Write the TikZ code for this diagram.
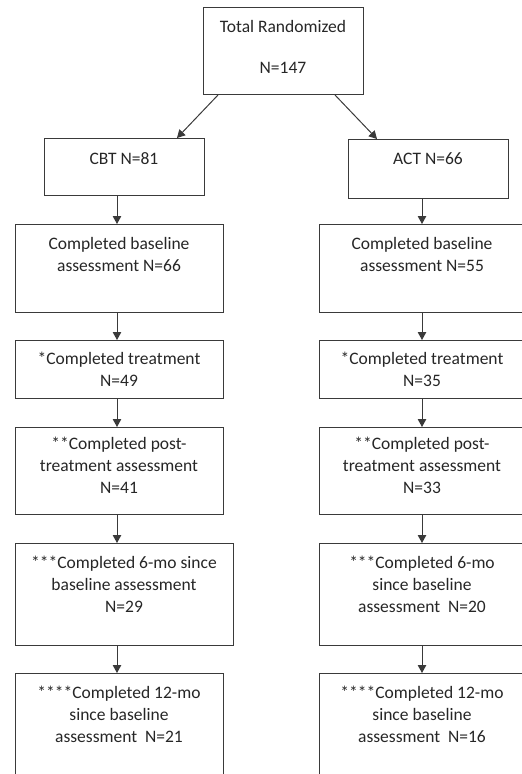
\documentclass[tikz,border=0pt]{standalone}
\usepackage{fontspec}
\setmainfont{Carlito}
\usetikzlibrary{arrows.meta,calc}
\definecolor{edge}{HTML}{3A3A3A}
\definecolor{ink}{HTML}{262626}
\begin{document}
\begin{tikzpicture}[x=1pt,y=-1pt,
  box/.style={draw=edge,line width=1pt,rectangle,inner sep=0pt,anchor=north west},
  txt/.style={text=ink,align=center,inner sep=0pt,anchor=north,font=\fontsize{17.5}{22}\selectfont},
  arr/.style={draw=edge,line width=1pt,-{Triangle[length=8pt,width=8.5pt]}}]
\useasboundingbox (0,0) rectangle (522,774);
\clip (0,0) rectangle (522,774);
% boxes
\node[box,minimum width=160pt,minimum height=87pt] (top) at (203,7) {};
\node[box,minimum width=160pt,minimum height=57pt] (cbt) at (44,138) {};
\node[box,minimum width=160pt,minimum height=59pt] (act) at (348,139) {};
\node[box,minimum width=208pt,minimum height=88pt] (l1) at (15,224) {};
\node[box,minimum width=206pt,minimum height=88pt] (r1) at (319,224) {};
\node[box,minimum width=208pt,minimum height=58pt] (l2) at (15,340) {};
\node[box,minimum width=206pt,minimum height=58pt] (r2) at (319,340) {};
\node[box,minimum width=208pt,minimum height=87pt] (l3) at (15,427) {};
\node[box,minimum width=206pt,minimum height=87pt] (r3) at (319,427) {};
\node[box,minimum width=218pt,minimum height=102pt] (l4) at (15,543) {};
\node[box,minimum width=206pt,minimum height=102pt] (r4) at (319,543) {};
\node[box,minimum width=208pt,minimum height=120pt] (l5) at (15,673) {};
\node[box,minimum width=206pt,minimum height=120pt] (r5) at (319,673) {};
% texts
\node[txt] (ttop) at (283,16.6) {\strut Total Randomized\\[19pt]N=147};
\node[txt] (tcbt) at (124,148.6) {\strut CBT N=81};
\node[txt] (tact) at (428,148.6) {\strut ACT N=66};
\node[txt] (tl1) at (119,233.6) {\strut Completed baseline\\assessment N=66};
\node[txt] (tr1) at (422,233.6) {\strut Completed baseline\\assessment N=55};
\node[txt] (tl2) at (119,348.6) {\strut *Completed treatment\\N=49};
\node[txt] (tr2) at (422,348.6) {\strut *Completed treatment\\N=35};
\node[txt] (tl3) at (119,433.6) {\strut **Completed post-\\treatment assessment\\N=41};
\node[txt] (tr3) at (422,433.6) {\strut **Completed post-\\treatment assessment\\N=33};
\node[txt] (tl4) at (124,552.6) {\strut ***Completed 6-mo since\\baseline assessment\\N=29};
\node[txt] (tr4) at (422,552.6) {\strut ***Completed 6-mo\\since baseline\\assessment~ N=20};
\node[txt] (tl5) at (119,682.6) {\strut ****Completed 12-mo\\since baseline\\assessment~ N=21};
\node[txt] (tr5) at (422,682.6) {\strut ****Completed 12-mo\\since baseline\\assessment~ N=16};
% connectors
\coordinate (lx) at (117,0);
\coordinate (rx) at (422,0);
\draw[arr] ([xshift=15pt]top.south west) -- ([xshift=-28pt]cbt.north east);
\draw[arr] ([xshift=-29pt]top.south east) -- ([xshift=29pt]act.north west);
\draw[arr] (cbt.south -| lx) -- (l1.north -| lx);
\draw[arr] (act.south -| rx) -- (r1.north -| rx);
\draw[arr] (l1.south -| lx) -- (l2.north -| lx);
\draw[arr] (r1.south -| rx) -- (r2.north -| rx);
\draw[arr] (l2.south -| lx) -- (l3.north -| lx);
\draw[arr] (r2.south -| rx) -- (r3.north -| rx);
\draw[arr] (l3.south -| lx) -- (l4.north -| lx);
\draw[arr] (r3.south -| rx) -- (r4.north -| rx);
\draw[arr] (l4.south -| lx) -- (l5.north -| lx);
\draw[arr] (r4.south -| rx) -- (r5.north -| rx);
\end{tikzpicture}
\end{document}
